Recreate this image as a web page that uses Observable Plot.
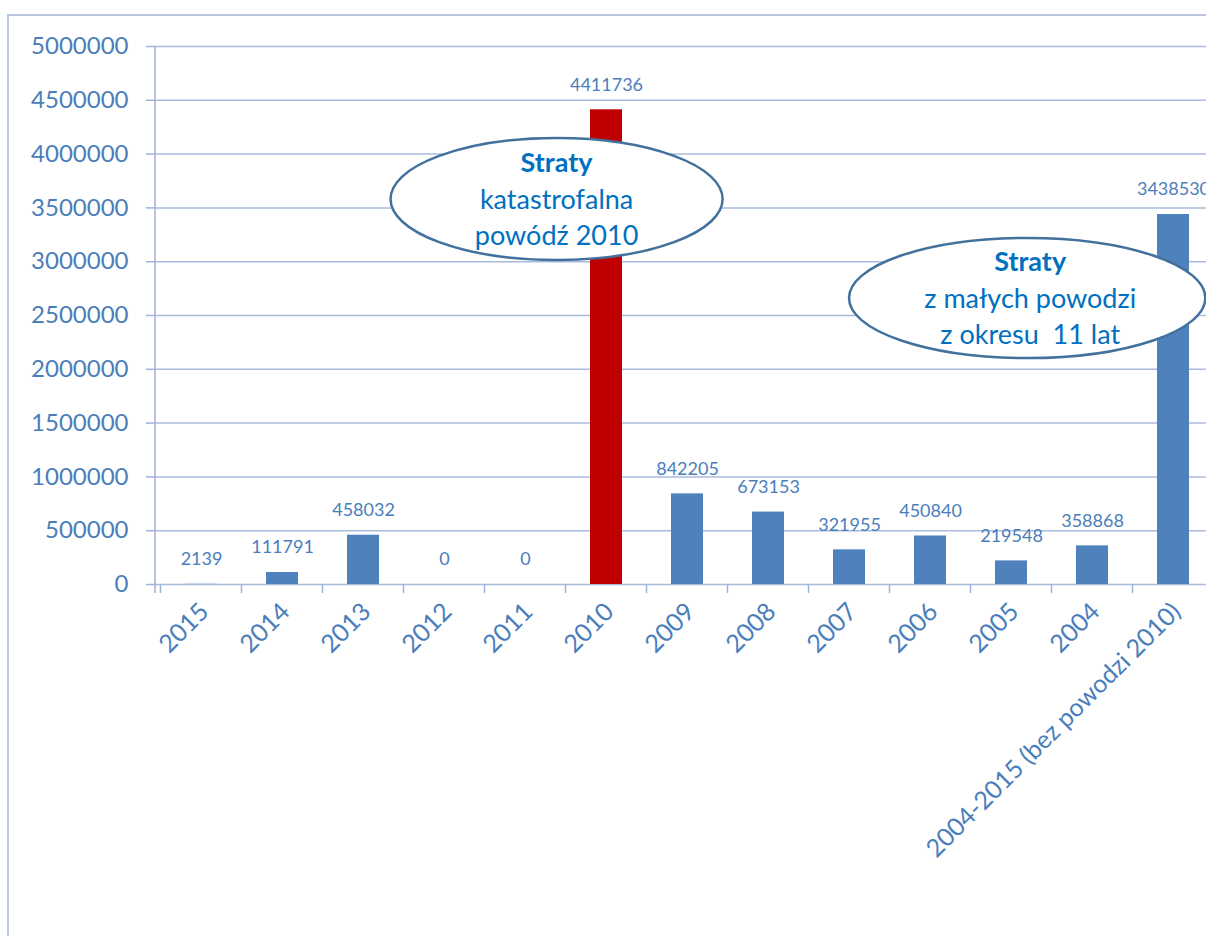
<!DOCTYPE html>
<html>
<head>
<meta charset="utf-8">
<script src="https://cdn.jsdelivr.net/npm/d3@7"></script>
<script src="https://cdn.jsdelivr.net/npm/@observablehq/plot@0.6"></script>
<style>
html, body { margin: 0; padding: 0; width: 1206px; height: 936px; overflow: hidden; background: #fff; font-family: Lato, "Open Sans", sans-serif; position: relative; }
#frame { position: absolute; left: 7px; top: 14px; width: 1400px; height: 1100px; border-left: 2px solid #b9c7df; border-top: 2px solid #b9c7df; box-sizing: border-box; }
#chart { position: absolute; left: 10px; top: 17px; width: 1210px; }
#chart svg { max-width: none !important; }
</style>
</head>
<body>
<div id="frame"></div>
<div id="chart"></div>
<script>
// ---- data ----
const categories = ["2015", "2014", "2013", "2012", "2011", "2010", "2009", "2008", "2007", "2006", "2005", "2004", "2004-2015 (bez powodzi 2010)"];
const values = [2139, 111791, 458032, 0, 0, 4411736, 842205, 673153, 321955, 450840, 219548, 358868, 3438530];
const highlightCategory = "2010";
const yTicks = [0, 500000, 1000000, 1500000, 2000000, 2500000, 3000000, 3500000, 4000000, 4500000, 5000000];
const annotationCats = ["2011", "2005"];
const annotationShift = [0.39, 0.2];      // in band steps
const annotationY = [3578000, 2658000];   // centre value
const annotationRx = [2.05, 2.2];         // in band steps
const annotationRy = [567000, 558000];    // in value units
const annotationLines = [
  ["Straty", "katastrofalna", "powódź 2010"],
  ["Straty", "z małych powodzi", "z okresu  11 lat"]
];

const data = categories.map((c, i) => ({cat: c, value: values[i]}));
const blue = "#4f81bd", red = "#c00000", labelBlue = "#4a7ebb", gridColor = "#a9bbdc", axisColor = "#9fb2d8";

const chart = Plot.plot({
  width: 1210,
  height: 930,
  marginLeft: 145,
  marginRight: 0,
  marginTop: 29,
  marginBottom: 363,
  style: {fontFamily: "Lato, 'Open Sans', sans-serif", background: "transparent", overflow: "visible", maxWidth: "none"},
  x: {domain: categories, paddingInner: 0.6, paddingOuter: 0.3, axis: null},
  y: {domain: [0, 5000000], axis: null},
  marks: [
    Plot.gridY({ticks: yTicks, stroke: gridColor, strokeOpacity: 1, strokeWidth: 1.5}),
    Plot.barY(data.filter(d => d.cat !== highlightCategory), {x: "cat", y: "value", fill: blue}),
    Plot.barY(data.filter(d => d.cat === highlightCategory), {x: "cat", y: "value", fill: red}),
    Plot.text(data, {x: "cat", y: "value", text: d => String(d.value), dy: -25, lineAnchor: "middle", fill: labelBlue, fontSize: 18}),
    Plot.axisY({ticks: yTicks, tickFormat: d => String(d), label: null, tickSize: 9, tickPadding: 18, fontSize: 24, stroke: axisColor, fill: labelBlue, strokeWidth: 1.5}),
    Plot.text(categories, {x: d => d, frameAnchor: "bottom", rotate: -45, textAnchor: "end", lineAnchor: "middle", dx: 3, dy: 23, fontSize: 25, fill: labelBlue})
  ]
});
chart.style.maxWidth = "none";
document.getElementById("chart").appendChild(chart);

// ---- extra axis lines and annotations, positioned through the chart's scales ----
const svg = d3.select(chart);
const xs = chart.scale("x"), ys = chart.scale("y");
const step = xs.step, bw = xs.bandwidth;
const gap = (step - bw) / 2;
const y0 = ys.apply(0), yTop = ys.apply(yTicks[yTicks.length - 1]);
const left = xs.range[0];

const axes = svg.append("g").attr("stroke", axisColor).attr("stroke-width", 1.5);
axes.append("line").attr("x1", left).attr("x2", left).attr("y1", yTop).attr("y2", y0 + 9);
categories.forEach((c, i) => {
  const bx = xs.apply(c) - gap;
  axes.append("line").attr("x1", bx).attr("x2", bx).attr("y1", y0).attr("y2", y0 + 9);
  if (i === categories.length - 1) {
    axes.append("line").attr("x1", bx + step).attr("x2", bx + step).attr("y1", y0).attr("y2", y0 + 9);
  }
});

const ann = svg.append("g");
annotationCats.forEach((c, i) => {
  const cx = xs.apply(c) + bw / 2 + annotationShift[i] * step;
  const cy = ys.apply(annotationY[i]);
  const rx = annotationRx[i] * step;
  const ry = Math.abs(ys.apply(annotationY[i] + annotationRy[i]) - cy);
  ann.append("ellipse").attr("cx", cx).attr("cy", cy).attr("rx", rx).attr("ry", ry)
    .attr("fill", "#fff").attr("stroke", "#41719c").attr("stroke-width", 2.5);
  const offsets = [-27, 10, 46];
  annotationLines[i].forEach((t, j) => {
    ann.append("text").attr("x", cx + (i === 1 ? 3 : 0)).attr("y", cy + offsets[j])
      .attr("text-anchor", "middle")
      .attr("font-family", "Lato, 'Open Sans', sans-serif")
      .attr("font-size", 27)
      .attr("font-weight", j === 0 ? "bold" : "normal")
      .attr("fill", "#0070c0")
      .style("white-space", "pre")
      .text(t);
  });
});
</script>
</body>
</html>
